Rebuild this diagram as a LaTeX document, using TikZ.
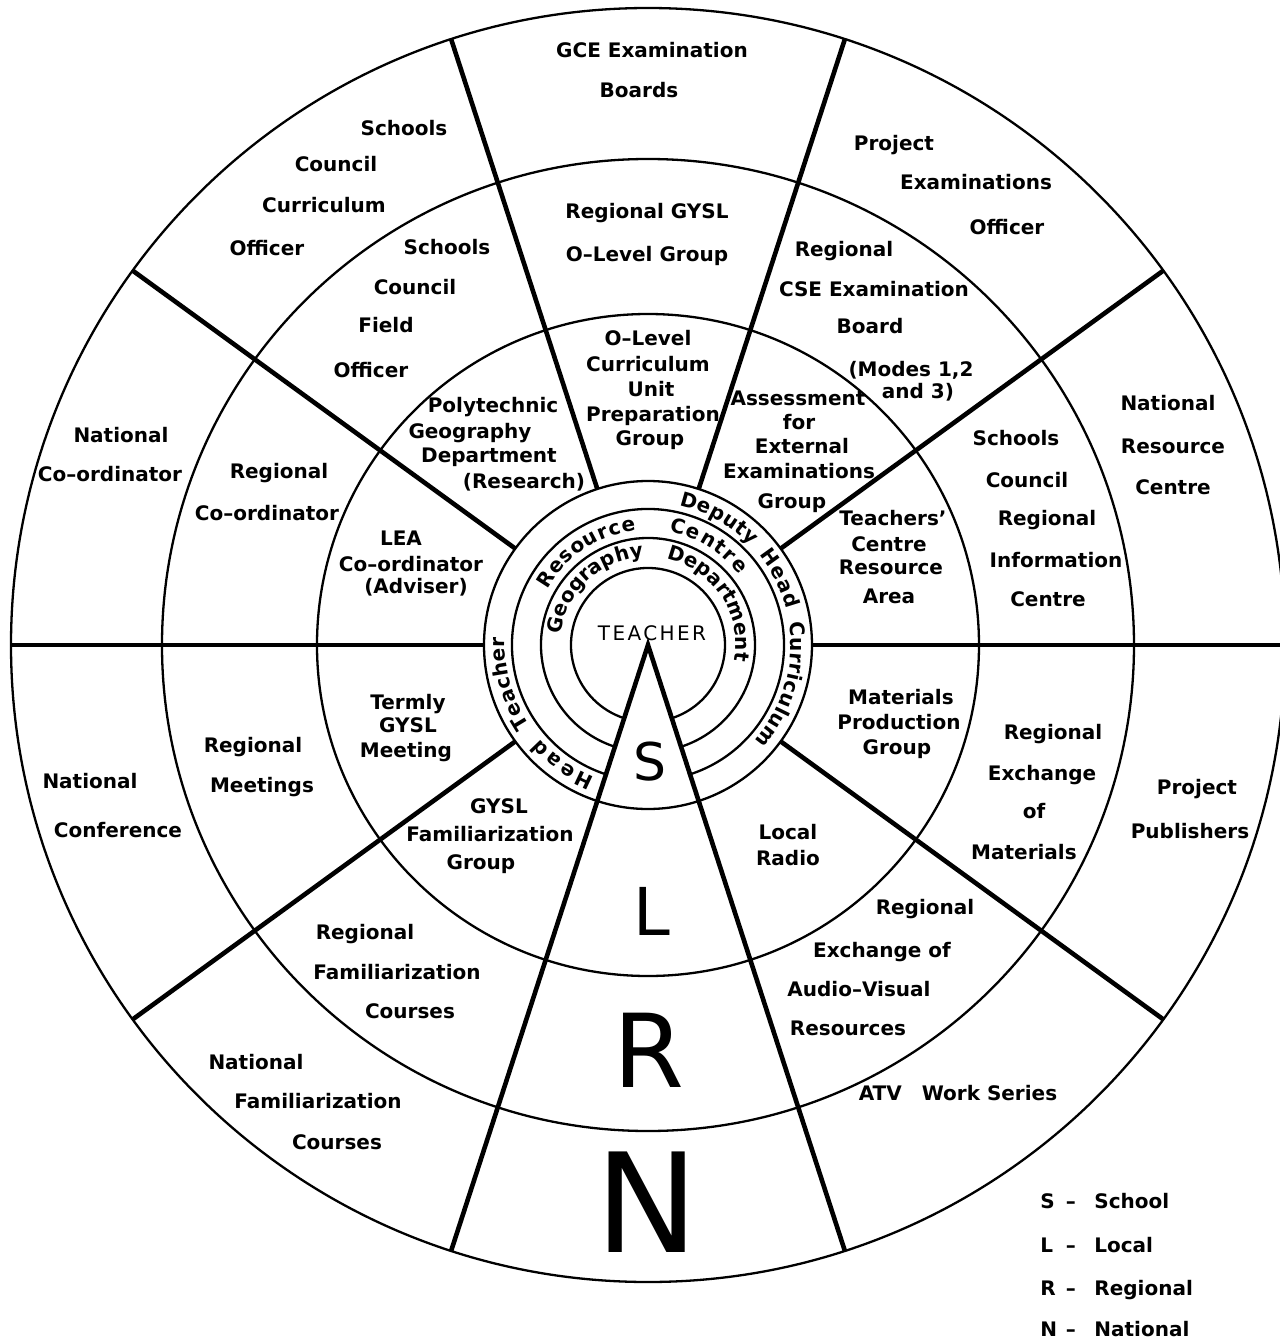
\documentclass[tikz,border=0pt]{standalone}
\usepackage{fontspec}
\setmainfont{DejaVu Sans}
\usetikzlibrary{decorations.text}

\begin{document}
\begin{tikzpicture}[x=0.5pt,y=0.5pt,
ring/.style={line width=1.15pt},
spoke/.style={line width=2.3pt},
lbl/.style={font=\bfseries, inner sep=0pt, anchor=mid},
lvl/.style={inner sep=0pt, font=\fontsize{#1}{#1}\selectfont},
curved/.style={decorate, decoration={text along path, text align=fit to path, text={|\bfseries|#1}}}]
\useasboundingbox (-648,-696) rectangle (632,645);

% rings
\foreach \r in {637,486,331,164}{
\draw [ring] (0,0) circle (\r);
}
\foreach \r in {136,107,77}{
\draw [ring] (-72:\r) arc [start angle=-72, end angle=252, radius=\r];
}

% spokes and the S-L-R-N wedge
\foreach \a in {0,36,72,108,144,180,216,324}{
\draw [spoke] (\a:164) -- (\a:637);
}
\draw [spoke, line join=miter] (252:637) -- (0,0) -- (288:637);

% words round the teacher
\path [curved=Deputy] (77.5:143) arc [start angle=77.5, end angle=44, radius=143];
\path [curved=Head] (39:143) arc [start angle=39, end angle=14.5, radius=143];
\path [curved=Curriculum] (9:143) arc [start angle=9, end angle=-42, radius=143];
\path [curved=Head] (248:143) arc [start angle=248, end angle=221, radius=143];
\path [curved=Teacher] (214:143) arc [start angle=214, end angle=177, radius=143];
\path [curved=Resource] (151:115) arc [start angle=151, end angle=96, radius=115];
\path [curved=Centre] (79.5:115) arc [start angle=79.5, end angle=37.5, radius=115];
\path [curved=Geography] (173:88) arc [start angle=173, end angle=96, radius=88];
\path [curved=Department] (78:88) arc [start angle=78, end angle=-9.5, radius=88];
%\draw [ring, gray] (0,0) circle (150);

% labels, in page pixels (y down)
\begin{scope}[y=-0.5pt, shift={(-324pt,322.5pt)}]
% national ring
\foreach \x/\y/\t [count=\i] in {652/52/GCE Examination, 639/92/Boards,
404/130/Schools, 336/166/Council, 324/207/Curriculum, 267/250/Officer,
121/437/National, 110/476/Co–ordinator,
90/783/National, 118/832/Conference,
256/1064/National, 318/1103/Familiarization, 337/1144/Courses,
958/1095/ATV\quad Work Series,
1197/789/Project, 1190/833/Publishers,
1168/405/National, 1173/448/Resource, 1173/489/Centre,
894/145/Project, 976/184/Examinations, 1007/229/Officer}{
\node [lbl] (nat\i) at (\x,\y) {\t};
}
% regional ring
\foreach \x/\y/\t [count=\i] in {647/213/Regional GYSL, 647/256/O–Level Group,
447/249/Schools, 415/289/Council, 386/327/Field, 371/372/Officer,
279/473/Regional, 267/515/Co–ordinator,
253/747/Regional, 262/787/Meetings,
365/934/Regional, 397/974/Familiarization, 410/1013/Courses,
925/909/Regional, 882/952/Exchange of, 859/991/Audio–Visual, 848/1030/Resources,
1053/734/Regional, 1042/775/Exchange, 1034/813/of, 1024/854/Materials,
1016/440/Schools, 1027/482/Council, 1047/520/Regional, 1056/562/Information, 1048/601/Centre,
844/251/Regional, 874/291/CSE Examination, 870/328/Board, 911/371/{(Modes 1,2}, 918/393/and 3)}{
\node [lbl] (reg\i) at (\x,\y) {\t};
}
% local ring
\foreach \x/\y/\t [count=\i] in {648/340/O–Level, 648/366/Curriculum, 651/391/Unit, 653/416/Preparation, 650/440/Group,
493/407/Polytechnic, 470/433/Geography, 489/457/Department, 524/483/(Research),
401/540/LEA, 411/566/Co–ordinator, 416/588/(Adviser),
408/704/Termly, 408/727/GYSL, 406/752/Meeting,
499/808/GYSL, 490/836/Familiarization, 481/864/Group,
788/834/Local, 788/860/Radio,
901/699/Materials, 899/724/Production, 897/749/Group,
893/520/Teachers', 889/546/Centre, 891/569/Resource, 889/598/Area,
798/400/Assessment, 799/424/for, 802/448/External, 799/473/Examinations, 792/503/Group}{
\node [lbl] (loc\i) at (\x,\y) {\t};
}

\node [font={\addfontfeatures{LetterSpace=12}}, inner sep=0pt] (teacher) at (652,633) {TEACHER};

\node [lvl=26] (lvS) at (650,762) {S};
\node [lvl=33] (lvL) at (652,911) {L};
\node [lvl=51] (lvR) at (649,1050) {R};
\node [lvl=69] (lvN) at (647,1202) {N};

% key
\foreach \k/\w/\y in {S/School/1203, L/Local/1247, R/Regional/1290, N/National/1331}{
\node [lbl, anchor=mid west] (key\k) at (1040,\y) {\k};
\node [lbl] (dash\k) at (1071,\y) {–};
\node [lbl, anchor=mid west] (val\k) at (1094,\y) {\w};
}
\end{scope}
\end{tikzpicture}
\end{document}
